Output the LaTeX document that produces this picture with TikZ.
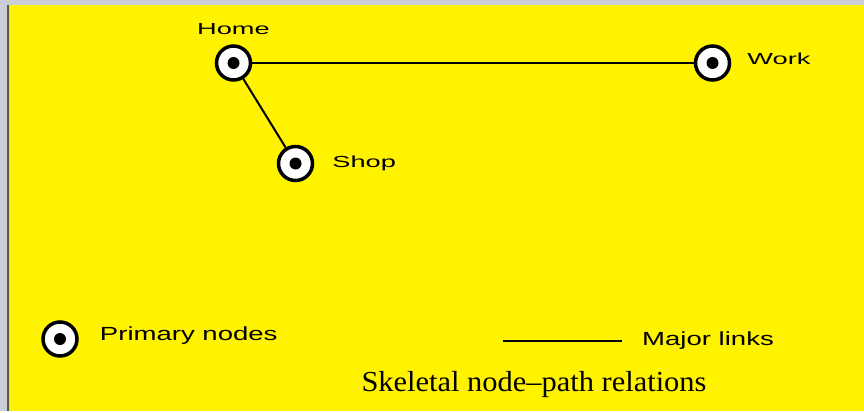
\documentclass[tikz,border=0pt]{standalone}
\usepackage{fontspec}
\setmainfont{Liberation Sans}
\newfontfamily\toplab[FakeStretch=1.7]{Liberation Sans}
\newfontfamily\keylab[FakeStretch=1.45]{Liberation Sans}
\newfontfamily\capfont[FakeStretch=1.05]{Liberation Serif}
\usetikzlibrary{positioning}
\definecolor{paper}{RGB}{255,243,0}
\definecolor{edgegrey}{RGB}{202,207,215}

\begin{document}
\begin{tikzpicture}[x=1pt,y=-1pt,
  place/.style={circle,draw,line width=3.5pt,fill=white,minimum size=34pt,inner sep=0pt,
    path picture={\fill[black] (path picture bounding box.center) circle (6pt);}},
  link/.style={line width=2.5pt},
  lbl/.style={font=\toplab\fontsize{16}{18}\selectfont,inner sep=0pt},
  keytext/.style={font=\keylab\fontsize{19}{21}\selectfont,inner sep=0pt}]
% scanned page edge
\fill[edgegrey] (0,0) rectangle (864,411);
\fill[paper] (10,5) rectangle (864,411);
\draw[line width=2pt,black!65] (8,5) -- (8,411);
% places
\node[place] (home) at (233.5,63) {};
\node[place] (work) at (712.5,63) {};
\node[place] (shop) at (295.5,163.5) {};
\draw[link] (home) -- (work);
\draw[link,line width=2pt] (home) -- (shop);
\node[lbl,above=9pt of home] (homelbl) {Home};
\node[lbl,right=16pt of work,yshift=4pt] (worklbl) {Work};
\node[lbl,right=18pt of shop] (shoplbl) {Shop};
% key
\node[place] (keynode) at (60,339) {};
\node[keytext,right=21pt of keynode,yshift=3pt] (keynodelbl) {Primary nodes};
\coordinate (keya) at (503,341);
\coordinate (keyb) at (622,341);
\draw[link] (keya) -- (keyb);
\node[keytext,right=20pt of keyb] (keylinklbl) {Major links};
\node[font=\capfont\fontsize{29}{31}\selectfont] (caption) at (534,385) {Skeletal node–path relations};
\end{tikzpicture}
\end{document}
